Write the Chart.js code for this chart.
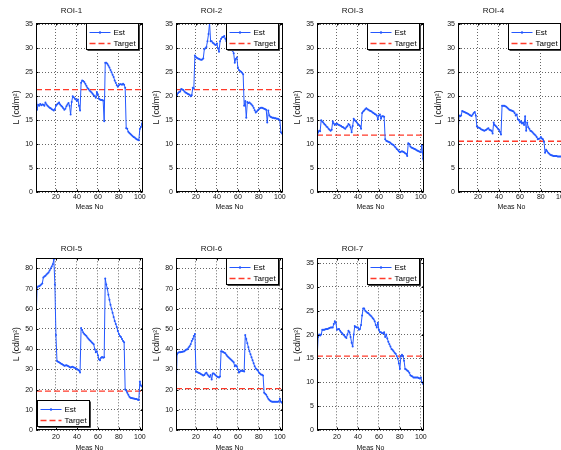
<!DOCTYPE html>
<html>
<head>
<meta charset="utf-8">
<script src="https://cdn.jsdelivr.net/npm/chart.js@4.4.0/dist/chart.umd.min.js"></script>
<style>
  body { margin: 0; background: #fff; width: 561px; height: 450px; overflow: hidden; position: relative; }
  canvas { position: absolute; }
</style>
</head>
<body>
<canvas id="c1" width="150" height="215" style="left:0px;top:0px"></canvas>
<canvas id="c2" width="150" height="215" style="left:140px;top:0px"></canvas>
<canvas id="c3" width="150" height="215" style="left:281px;top:0px"></canvas>
<canvas id="c4" width="150" height="215" style="left:422px;top:0px"></canvas>
<canvas id="c5" width="150" height="220" style="left:0px;top:236px"></canvas>
<canvas id="c6" width="150" height="220" style="left:140px;top:236px"></canvas>
<canvas id="c7" width="150" height="220" style="left:281px;top:236px"></canvas>
<script>
/* ROI estimates vs target, 7 panels */

const roiNames = ["ROI-1", "ROI-2", "ROI-3", "ROI-4", "ROI-5", "ROI-6", "ROI-7"];
const targets = [21.4, 21.4, 11.9, 10.6, 19.2, 20.5, 15.5];
const yMaxes = [35.3, 35.3, 35.3, 35.3, 85, 85, 36];
const xTicks = [20, 40, 60, 80, 100];
const yTicks35 = [0, 5, 10, 15, 20, 25, 30, 35];
const yTicks80 = [0, 10, 20, 30, 40, 50, 60, 70, 80];
const xMin = 1, xMax = 103;

const roi1 = [23.0, 17.2, 18.2, 18.0, 18.4, 18.1, 18.3, 18.2, 18.0, 18.7,
  18.3, 18.0, 17.8, 17.6, 17.5, 17.3, 17.2, 17.0, 17.3, 18.0,
  18.3, 18.5, 18.7, 18.3, 18.0, 17.8, 17.5, 17.2, 17.4, 17.9,
  18.3, 18.6, 18.0, 16.2, 18.8, 20.0, 19.8, 19.5, 19.3, 19.0,
  19.3, 18.0, 17.0, 22.8, 23.3, 23.2, 23.0, 22.6, 22.2, 21.8,
  21.5, 21.2, 21.0, 20.8, 20.5, 20.2, 20.0, 19.7, 20.9, 20.4,
  19.5, 19.3, 19.2, 19.2, 19.1, 14.8, 27.0, 27.0, 26.8, 26.4,
  26.0, 25.5, 25.0, 24.5, 24.0, 23.3, 22.8, 22.3, 22.0, 22.3,
  22.5, 22.5, 22.4, 22.6, 22.4, 21.8, 13.3, 13.2, 12.6, 12.3,
  12.1, 11.9, 11.7, 11.5, 11.4, 11.2, 11.0, 10.9, 10.8, 13.2,
  13.6, 14.2, 16.0];
const roi2 = [19.5, 20.3, 20.7, 20.9, 21.0, 21.5, 21.4, 21.3, 21.0, 20.8,
  20.7, 20.5, 20.4, 20.3, 20.0, 20.2, 21.8, 21.6, 28.5, 28.2,
  28.0, 27.9, 27.8, 27.7, 27.6, 27.7, 27.9, 29.8, 30.0, 30.3,
  31.5, 33.0, 35.3, 31.5, 31.5, 31.2, 31.0, 30.8, 30.7, 31.0,
  30.0, 29.3, 31.5, 32.0, 32.3, 32.4, 32.6, 32.0, 31.5, 31.0,
  30.5, 30.2, 30.0, 29.8, 29.5, 29.0, 27.0, 27.8, 28.1, 26.0,
  25.5, 25.3, 25.1, 24.9, 24.6, 18.0, 19.0, 15.5, 18.8, 18.6,
  18.7, 18.5, 18.3, 18.0, 17.6, 17.1, 16.6, 16.8, 17.1, 17.3,
  17.5, 17.6, 17.6, 17.5, 17.4, 17.3, 17.2, 14.5, 17.0, 16.0,
  15.7, 15.6, 15.5, 15.5, 15.4, 15.4, 15.3, 15.3, 15.2, 15.0,
  12.5, 12.2, 12.2];
const roi3 = [10.8, 12.5, 12.8, 12.7, 15.0, 14.7, 14.5, 14.2, 14.0, 13.7,
  13.5, 13.2, 13.0, 12.8, 13.0, 14.8, 14.3, 14.0, 14.2, 14.3,
  14.1, 14.0, 13.9, 13.8, 13.6, 13.5, 13.3, 13.2, 13.5, 13.8,
  14.2, 14.0, 13.5, 12.5, 13.8, 15.3, 15.0, 14.8, 14.5, 14.2,
  14.0, 13.8, 13.2, 16.5, 16.8, 17.0, 17.3, 17.5, 17.3, 17.2,
  17.0, 16.9, 16.8, 16.6, 16.5, 16.3, 16.2, 16.0, 15.2, 16.0,
  16.2, 15.3, 15.8, 15.8, 15.7, 11.0, 10.7, 10.6, 10.5, 10.4,
  10.3, 10.0, 9.9, 9.8, 9.5, 9.3, 9.0, 8.8, 8.5, 8.3,
  8.4, 8.5, 8.4, 8.3, 8.1, 8.0, 7.5, 10.2, 10.0, 9.5,
  9.3, 9.2, 9.1, 9.0, 8.9, 8.7, 8.6, 8.5, 8.4, 8.3,
  9.8, 7.0, 5.5];
const roi4 = [11.8, 16.0, 15.8, 16.0, 16.9, 16.8, 16.7, 16.6, 16.5, 16.4,
  16.3, 16.1, 16.0, 15.9, 16.2, 16.5, 16.7, 16.0, 13.7, 13.5,
  13.4, 13.3, 13.1, 13.0, 12.9, 12.8, 12.9, 13.0, 13.2, 13.3,
  13.0, 12.9, 12.8, 12.2, 14.5, 14.0, 13.8, 13.5, 13.2, 13.0,
  12.6, 12.0, 18.0, 18.0, 18.0, 17.9, 17.8, 17.6, 17.4, 17.2,
  17.1, 17.0, 16.9, 16.8, 16.5, 16.0, 16.2, 15.2, 15.0, 14.5,
  14.8, 14.3, 14.5, 14.0, 15.8, 12.8, 14.5, 13.5, 13.2, 12.8,
  12.7, 12.5, 12.2, 12.0, 11.8, 11.5, 11.0, 11.1, 11.2, 11.5,
  11.2, 11.0, 10.5, 8.2, 8.8, 8.5, 8.2, 8.0, 7.8, 7.7,
  7.6, 7.5, 7.5, 7.5, 7.5, 7.4, 7.4, 7.4, 7.4, 7.4,
  7.3, 7.3, 7.3];
const roi5 = [52.0, 70.5, 71.0, 71.2, 71.5, 72.0, 72.5, 75.5, 76.0, 76.3,
  77.0, 77.5, 78.0, 79.0, 80.0, 81.0, 82.0, 84.5, 72.0, 47.0,
  34.2, 33.8, 33.5, 33.2, 32.8, 32.5, 32.2, 31.8, 31.9, 32.0,
  31.8, 31.5, 31.2, 31.0, 31.2, 31.3, 31.0, 30.8, 30.5, 30.2,
  29.8, 29.5, 28.5, 50.5, 49.5, 48.3, 47.5, 47.0, 46.5, 45.8,
  45.2, 44.5, 44.0, 43.5, 43.0, 42.5, 40.0, 38.5, 39.0, 37.0,
  35.0, 34.5, 35.8, 36.2, 35.8, 36.0, 75.0, 72.0, 70.0, 67.0,
  64.5, 62.0, 60.0, 58.0, 56.0, 54.0, 52.5, 51.0, 49.0, 47.5,
  46.5, 46.0, 45.0, 44.0, 43.5, 20.0, 19.5, 18.5, 17.5, 16.5,
  16.0, 15.8, 15.7, 15.6, 15.5, 15.4, 15.3, 15.0, 14.8, 24.0,
  22.0, 21.5, 21.0];
const roi6 = [17.5, 37.5, 38.3, 38.5, 38.5, 38.6, 38.7, 38.8, 39.0, 39.5,
  39.8, 40.0, 40.8, 41.5, 42.5, 44.0, 45.0, 46.5, 47.5, 29.0,
  28.7, 28.5, 28.2, 28.0, 27.6, 27.3, 27.0, 27.2, 28.0, 28.3,
  27.5, 26.8, 26.2, 27.2, 25.0, 28.0, 28.0, 27.5, 27.0, 26.5,
  26.2, 26.0, 26.5, 39.0, 38.8, 38.6, 38.3, 38.0, 37.2, 36.5,
  36.0, 35.5, 35.0, 34.5, 34.0, 33.5, 31.5, 32.0, 31.5, 30.0,
  28.5, 29.0, 29.5, 29.2, 29.2, 29.0, 47.0, 45.0, 43.0, 41.0,
  39.0, 37.5, 36.0, 34.5, 33.0, 31.5, 30.5, 30.0, 29.5, 28.5,
  28.0, 27.5, 27.3, 27.0, 18.5, 18.0, 17.5, 16.5, 15.5, 14.8,
  14.3, 14.1, 14.0, 14.0, 14.0, 14.0, 14.0, 14.0, 14.1, 15.5,
  14.0, 13.5, 13.3];
const roi7 = [14.0, 19.5, 20.0, 19.8, 20.0, 21.0, 21.0, 21.0, 21.1, 21.2,
  21.2, 21.3, 21.4, 21.5, 21.5, 21.5, 22.2, 22.8, 22.5, 21.0,
  21.1, 21.2, 20.8, 20.5, 20.3, 20.0, 19.8, 19.5, 19.3, 20.0,
  20.8, 20.5, 19.5, 18.3, 17.5, 20.0, 21.8, 21.6, 21.5, 21.5,
  21.0, 21.2, 22.0, 24.0, 25.5, 25.5, 25.0, 24.8, 24.6, 24.5,
  24.2, 24.0, 23.8, 23.5, 23.2, 22.8, 22.0, 21.5, 22.5, 21.0,
  20.5, 20.5, 20.3, 20.3, 20.5, 19.5, 20.0, 19.2, 18.5, 18.0,
  17.5, 17.0, 16.8, 16.5, 16.2, 16.0, 15.5, 15.0, 14.0, 12.8,
  15.5, 15.8, 15.5, 14.5, 12.8, 12.7, 12.5, 12.3, 12.0, 11.5,
  11.3, 11.2, 11.0, 11.0, 11.0, 11.0, 11.0, 10.9, 10.8, 11.0,
  10.0, 9.7, 9.3];

const estSeries = [roi1, roi2, roi3, roi4, roi5, roi6, roi7];

const BLUE = "#2458ff";
const RED = "#ff3a2a";
const NARROW = "'Liberation Sans Narrow', 'Arial Narrow', 'Liberation Sans', sans-serif";
const SANS = "'Liberation Sans', Arial, sans-serif";

// box, inner tick marks and a matlab style legend
const axesBox = {
  id: "axesBox",
  afterDraw(chart, args, opts) {
    const ctx = chart.ctx;
    const a = chart.chartArea;
    const sx = chart.scales.x, sy = chart.scales.y;
    const L = Math.round(a.left) + 0.5, R = Math.round(a.right) - 0.5;
    const T = Math.round(a.top) + 0.5, B = Math.round(a.bottom) - 0.5;
    ctx.save();
    ctx.setLineDash([]);
    ctx.strokeStyle = "#000";
    ctx.lineWidth = 1;
    ctx.strokeRect(L, T, R - L, B - T);

    ctx.beginPath();
    sx.ticks.forEach((t) => {
      const px = Math.round(sx.getPixelForValue(t.value)) + 0.5;
      ctx.moveTo(px, B); ctx.lineTo(px, B - 2);
      ctx.moveTo(px, T); ctx.lineTo(px, T + 2);
    });
    sy.ticks.forEach((t) => {
      const py = Math.round(sy.getPixelForValue(t.value)) + 0.5;
      ctx.moveTo(L, py); ctx.lineTo(L + 2, py);
      ctx.moveTo(R, py); ctx.lineTo(R - 2, py);
    });
    ctx.stroke();

    // legend
    const w = 52, h = 26;
    let lx, ly;
    if (opts.corner === "bl") {
      lx = Math.round(a.left) + 1.5;
      ly = Math.round(a.bottom) - 29.5;
    } else {
      lx = Math.round(a.right) - 56.5;
      ly = Math.round(a.top) + 0.5;
    }
    ctx.fillStyle = "#fff";
    ctx.fillRect(lx, ly, w, h);
    ctx.strokeStyle = "#000";
    ctx.lineWidth = 1;
    ctx.strokeRect(lx, ly, w, h);
    ctx.strokeStyle = "#444";
    ctx.beginPath();
    ctx.moveTo(lx + w + 1, ly + 1); ctx.lineTo(lx + w + 1, ly + h + 1); ctx.lineTo(lx + 1, ly + h + 1);
    ctx.stroke();

    const ds = chart.data.datasets;
    ds.forEach((d, k) => {
      const yy = Math.round(ly + 8 + k * 11) + 0.5;
      ctx.strokeStyle = d.borderColor;
      ctx.lineWidth = d.borderWidth;
      ctx.setLineDash(d.borderDash || []);
      ctx.beginPath();
      ctx.moveTo(lx + 3, yy); ctx.lineTo(lx + 24, yy);
      ctx.stroke();
      ctx.setLineDash([]);
      if (d.pointRadius > 0) {
        ctx.fillStyle = d.borderColor;
        ctx.beginPath();
        ctx.arc(lx + 13.5, yy, 1.2, 0, Math.PI * 2);
        ctx.fill();
      }
      ctx.fillStyle = "#000";
      ctx.font = "8px " + NARROW;
      ctx.textBaseline = "middle";
      ctx.textAlign = "left";
      ctx.fillText(d.label, lx + 27, yy + 0.5);
    });
    ctx.restore();
  }
};

function make_panel(i) {
  const est = estSeries[i];
  const pts = est.map((v, k) => ({ x: k + 1, y: v }));
  const bottomRow = i >= 4;
  const yTicks = (i === 4 || i === 5) ? yTicks80 : yTicks35;

  new Chart(document.getElementById("c" + (i + 1)), {
    type: "line",
    data: {
      datasets: [
        {
          label: "Est",
          data: pts,
          borderColor: BLUE,
          backgroundColor: BLUE,
          borderWidth: 1,
          pointRadius: 1,
          pointBorderWidth: 0,
          pointBackgroundColor: BLUE,
          tension: 0
        },
        {
          label: "Target",
          data: [{ x: xMin, y: targets[i] }, { x: xMax, y: targets[i] }],
          borderColor: RED,
          borderWidth: 1.3,
          borderDash: [6, 3],
          pointRadius: 0
        }
      ]
    },
    options: {
      responsive: false,
      animation: false,
      devicePixelRatio: 1,
      events: [],
      layout: { padding: { left: 0, right: 7, top: 0, bottom: 0 } },
      plugins: {
        legend: { display: false },
        tooltip: { enabled: false },
        title: {
          display: true,
          text: roiNames[i],
          color: "#111",
          font: { family: NARROW, size: 8, weight: "normal" },
          padding: bottomRow ? { top: 7.5, bottom: 5.2 } : { top: 5.5, bottom: 7.9 }
        },
        axesBox: { corner: i === 4 ? "bl" : "tr" }
      },
      scales: {
        x: {
          type: "linear",
          min: xMin,
          max: xMax,
          afterBuildTicks: (s) => { s.ticks = xTicks.map((v) => ({ value: v })); },
          afterFit: (s) => { s.height = bottomRow ? 26 : 23; },
          grid: { color: "rgba(0,0,0,0.6)", lineWidth: 1, drawTicks: false },
          border: { display: false, dash: [1, 2] },
          ticks: {
            color: "#111",
            font: { family: NARROW, size: 7 },
            padding: bottomRow ? 3 : 1,
            maxRotation: 0,
            autoSkip: false
          },
          title: {
            display: true,
            text: "Meas No",
            color: "#111",
            font: { family: NARROW, size: 7 },
            padding: { top: 0, bottom: 4 }
          }
        },
        y: {
          type: "linear",
          min: 0,
          max: yMaxes[i],
          afterBuildTicks: (s) => { s.ticks = yTicks.map((v) => ({ value: v })); },
          afterFit: (s) => { s.width = 36; },
          grid: { color: "rgba(0,0,0,0.6)", lineWidth: 1, drawTicks: false },
          border: { display: false, dash: [1, 2] },
          ticks: {
            color: "#111",
            font: { family: NARROW, size: 7 },
            padding: 3,
            autoSkip: false
          },
          title: {
            display: true,
            text: "L (cd/m²)",
            color: "#111",
            font: { family: SANS, size: 8.5 },
            padding: { top: 12, bottom: 0 }
          }
        }
      }
    },
    plugins: [axesBox]
  });
}

roiNames.forEach((name, i) => make_panel(i));
</script>
</body>
</html>
